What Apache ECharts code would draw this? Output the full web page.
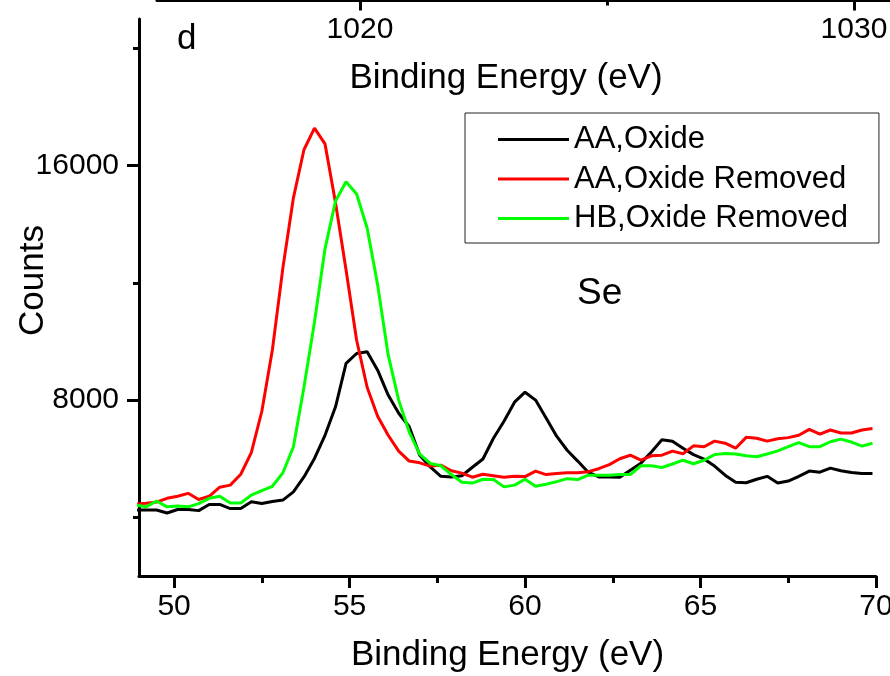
<!DOCTYPE html>
<html>
<head>
<meta charset="utf-8">
<script src="https://cdn.jsdelivr.net/npm/echarts@6/dist/echarts.min.js"></script>
<style>
  html, body { margin: 0; padding: 0; background: #fff; }
  #chart { width: 890px; height: 676px; }
</style>
</head>
<body>
<div id="chart"></div>
<script>
// Se 3d region, binding energy (eV)
const energy = [
  48.9, 49.2, 49.5, 49.8, 50.1, 50.4, 50.7, 51.0, 51.3, 51.6,
  51.9, 52.2, 52.5, 52.8, 53.1, 53.4, 53.7, 54.0, 54.3, 54.6,
  54.9, 55.2, 55.5, 55.8, 56.1, 56.4, 56.7, 57.0, 57.3, 57.6,
  57.9, 58.2, 58.5, 58.8, 59.1, 59.4, 59.7, 60.0, 60.3, 60.6,
  60.9, 61.2, 61.5, 61.8, 62.1, 62.4, 62.7, 63.0, 63.3, 63.6,
  63.9, 64.2, 64.5, 64.8, 65.1, 65.4, 65.7, 66.0, 66.3, 66.6,
  66.9, 67.2, 67.5, 67.8, 68.1, 68.4, 68.7, 69.0, 69.3, 69.6,
  69.9
];

// Counts per sample
const aaOxide = [
  4250, 4250, 4250, 4150, 4270, 4270, 4230, 4440, 4440, 4300,
  4300, 4530, 4470, 4540, 4590, 4870, 5380, 6010, 6800, 7770,
  9250, 9590, 9650, 9020, 8170, 7550, 7090, 6120, 5720, 5400,
  5380, 5420, 5710, 5990, 6700, 7280, 7930, 8270, 8000, 7390,
  6770, 6290, 5920, 5540, 5380, 5380, 5370, 5610, 5850, 6230,
  6650, 6600, 6360, 6140, 5990, 5750, 5440, 5200, 5180, 5300,
  5400, 5170, 5240, 5400, 5580, 5540, 5680, 5590, 5530, 5500,
  5500
];
const aaOxideRemoved = [
  4450, 4480, 4520, 4650, 4720, 4820, 4610, 4720, 5030, 5100,
  5470, 6210, 7620, 9710, 12510, 14900, 16540, 17280, 16740, 14730,
  12440, 10050, 8440, 7450, 6800, 6260, 5920, 5860, 5750, 5780,
  5590, 5510, 5370, 5470, 5420, 5370, 5400, 5390, 5580, 5460,
  5500, 5520, 5520, 5560, 5660, 5800, 6000, 6120, 5950, 6100,
  6120, 6260, 6170, 6440, 6410, 6600, 6530, 6360, 6730, 6700,
  6600, 6680, 6720, 6800, 7000, 6840, 6980, 6880, 6880, 6980,
  7030
];
const hbOxideRemoved = [
  4420, 4360, 4560, 4360, 4390, 4360, 4470, 4650, 4720, 4490,
  4490, 4760, 4910, 5060, 5520, 6410, 8440, 10660, 13160, 14790,
  15450, 15030, 13870, 11930, 9540, 8000, 6910, 6160, 5840, 5760,
  5460, 5200, 5170, 5300, 5290, 5040, 5100, 5300, 5060, 5130,
  5220, 5320, 5290, 5440, 5440, 5440, 5460, 5460, 5760, 5760,
  5700, 5820, 5950, 5830, 5950, 6140, 6180, 6160, 6100, 6070,
  6160, 6270, 6410, 6550, 6410, 6410, 6580, 6670, 6570, 6430,
  6530
];

const seriesNames = ['AA,Oxide', 'AA,Oxide Removed', 'HB,Oxide Removed'];
const seriesColors = ['#000000', '#ff0000', '#00ff00'];

// Axis ticks
const xTickLabels = [50, 55, 60, 65, 70];
const xMinorTicks = [52.5, 57.5, 62.5, 67.5];
const yTickLabels = [8000, 16000];
const yMinorTicks = [4000, 12000, 20000];
// Axis of the neighbouring panel above (Cu 2p window)
const topTickLabels = [1020, 1030];
const topMinorTicks = [1025];

const FONT = '"Liberation Sans", Arial, Helvetica, sans-serif';
const plain = v => String(v);

function pairs(values) {
  return energy.map((e, i) => [e, values[i]]);
}

const chart = echarts.init(document.getElementById('chart'), null, { renderer: 'canvas' });

const axisLineStyle = { color: '#000', width: 3 };

chart.setOption({
  animation: false,
  backgroundColor: '#ffffff',
  textStyle: { fontFamily: FONT, color: '#000' },
  grid: [
    { left: 139, right: 14, top: 19, height: 557, containLabel: false, outerBoundsMode: 'none' },
    { left: 157, right: -20, top: -10, height: 10.5, containLabel: false, outerBoundsMode: 'none' }
  ],
  title: [
    { text: 'd', left: 177, top: 22, padding: 0,
      textStyle: { fontFamily: FONT, fontSize: 35, fontWeight: 'normal', color: '#000' } },
    { text: 'Se', left: 577, top: 275, padding: 0,
      textStyle: { fontFamily: FONT, fontSize: 37, fontWeight: 'normal', color: '#000' } }
  ],
  legend: {
    orient: 'vertical',
    left: 465,
    top: 113,
    padding: [11, 31, 9, 33],
    icon: 'rect',
    itemWidth: 71,
    itemHeight: 3,
    itemGap: 8.5,
    borderColor: '#222',
    borderWidth: 1,
    backgroundColor: '#fff',
    textStyle: { fontFamily: FONT, fontSize: 31, color: '#000', lineHeight: 31 },
    data: seriesNames
  },
  xAxis: [
    {
      gridIndex: 0, type: 'value', min: 49, max: 70, position: 'bottom',
      axisLine: { show: true, onZero: false, lineStyle: axisLineStyle },
      axisTick: { show: true, customValues: xTickLabels, length: 12, lineStyle: axisLineStyle },
      axisLabel: { customValues: xTickLabels, formatter: plain, fontSize: 30, margin: 16, color: '#000', fontFamily: FONT },
      splitLine: { show: false },
      name: 'Binding Energy (eV)', nameLocation: 'middle', nameGap: 62, nameMoveOverlap: false,
      nameTextStyle: { fontSize: 35, color: '#000', fontFamily: FONT }
    },
    {
      gridIndex: 0, type: 'value', min: 49, max: 70, position: 'bottom',
      axisLine: { show: false, onZero: false },
      axisTick: { show: true, customValues: xMinorTicks, length: 7, lineStyle: axisLineStyle },
      axisLabel: { show: false },
      splitLine: { show: false }
    },
    {
      gridIndex: 1, type: 'value', min: 1015.891, max: 1031.134, position: 'bottom',
      axisLine: { show: true, onZero: false, lineStyle: axisLineStyle },
      axisTick: { show: true, customValues: topTickLabels, length: 10, lineStyle: axisLineStyle },
      axisLabel: { customValues: topTickLabels, formatter: plain, fontSize: 30, margin: 14, color: '#000', fontFamily: FONT },
      splitLine: { show: false },
      name: 'Binding Energy (eV)', nameLocation: 'middle', nameGap: 60, nameMoveOverlap: false,
      nameTextStyle: { fontSize: 35, color: '#000', fontFamily: FONT, padding: [0, 55, 0, 0] }
    },
    {
      gridIndex: 1, type: 'value', min: 1015.891, max: 1031.134, position: 'bottom',
      axisLine: { show: false, onZero: false },
      axisTick: { show: true, customValues: topMinorTicks, length: 5, lineStyle: axisLineStyle },
      axisLabel: { show: false },
      splitLine: { show: false }
    }
  ],
  yAxis: [
    {
      gridIndex: 0, type: 'value', min: 2000, max: 21000, position: 'left',
      axisLine: { show: true, onZero: false, lineStyle: axisLineStyle },
      axisTick: { show: true, customValues: yTickLabels, length: 12, lineStyle: axisLineStyle },
      axisLabel: { customValues: yTickLabels, formatter: plain, fontSize: 30, margin: 20, color: '#000', fontFamily: FONT },
      splitLine: { show: false },
      name: 'Counts', nameLocation: 'middle', nameGap: 88, nameMoveOverlap: false,
      nameTextStyle: { fontSize: 35, color: '#000', fontFamily: FONT, padding: [0, 0, 0, 34] }
    },
    {
      gridIndex: 0, type: 'value', min: 2000, max: 21000, position: 'left',
      axisLine: { show: false, onZero: false },
      axisTick: { show: true, customValues: yMinorTicks, length: 6, lineStyle: axisLineStyle },
      axisLabel: { show: false },
      splitLine: { show: false }
    },
    {
      gridIndex: 1, type: 'value', min: 0, max: 1, show: false
    }
  ],
  series: [aaOxide, aaOxideRemoved, hbOxideRemoved].map((vals, i) => ({
    name: seriesNames[i],
    type: 'line',
    xAxisIndex: 0,
    yAxisIndex: 0,
    data: pairs(vals),
    symbol: 'none',
    clip: true,
    color: seriesColors[i],
    lineStyle: { color: seriesColors[i], width: 3 }
  }))
});
</script>
</body>
</html>
